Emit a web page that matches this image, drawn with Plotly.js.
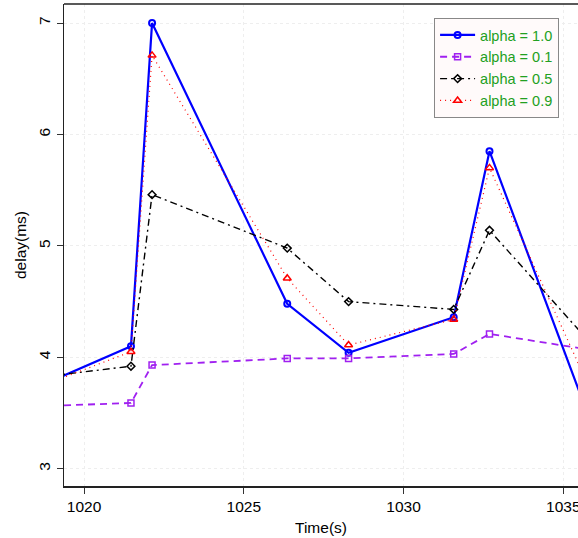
<!DOCTYPE html>
<html><head><meta charset="utf-8">
<script src="https://cdn.plot.ly/plotly-3.0.1.min.js"></script>
<style>html,body{margin:0;padding:0;background:#fff;}#chart{width:578px;height:538px;}</style>
</head><body><div id="chart"></div>
<script>
// Time (s) sample points
const time = [1019.0, 1021.47, 1022.13, 1026.36, 1028.28, 1031.57, 1032.69, 1036.0];
// delay (ms) per smoothing factor
const alpha10 = [3.79, 4.10, 7.00, 4.48, 4.04, 4.36, 5.85, 3.31];
const alpha01 = [3.565, 3.59, 3.93, 3.99, 3.99, 4.03, 4.21, 4.06];
const alpha05 = [3.835, 3.92, 5.46, 4.98, 4.50, 4.43, 5.14, 4.08];
const alpha09 = [3.78, 4.05, 6.71, 4.71, 4.11, 4.34, 5.70, 3.61];
const names = ["alpha = 1.0", "alpha = 0.1", "alpha = 0.5", "alpha = 0.9"];
const xTicks = [1020, 1025, 1030, 1035];
const yTicks = [3, 4, 5, 6, 7];

const traces = [
  {x: time, y: alpha10, name: names[0], mode: "lines+markers",
   line: {color: "#0000ff", width: 2.2},
   marker: {symbol: "circle-open", size: 6, color: "#0000ff", line: {width: 2}}},
  {x: time, y: alpha01, name: names[1], mode: "lines+markers",
   line: {color: "#a020f0", width: 1.8, dash: "7px,5px"},
   marker: {symbol: "square-open", size: 6, color: "#a020f0", line: {width: 1.5}}},
  {x: time, y: alpha05, name: names[2], mode: "lines+markers",
   line: {color: "#000000", width: 1.4, dash: "7px,4px,2px,4px"},
   marker: {symbol: "diamond-open", size: 6, color: "#000000", line: {width: 1.5}}},
  {x: time, y: alpha09, name: names[3], mode: "lines+markers",
   line: {color: "#ff0000", width: 1.2, dash: "1px,4px"},
   marker: {symbol: "triangle-up-open", size: 7, color: "#ff0000", line: {width: 1.5}}}
];

const font = {family: "Liberation Sans, Arial, sans-serif", size: 15.5, color: "#000"};
const layout = {
  width: 578, height: 538,
  margin: {l: 64, r: 0, t: 4, b: 52},
  paper_bgcolor: "#ffffff", plot_bgcolor: "#ffffff",
  font: font,
  showlegend: true,
  legend: {x: 0.72, y: 0.971, xanchor: "left", yanchor: "top",
           bgcolor: "#fffafa", bordercolor: "#888", borderwidth: 1,
           itemwidth: 35,
           font: {family: "Liberation Sans, Arial, sans-serif", size: 14.5, color: "#22a022"}},
  xaxis: {range: [1019.374, 1035.46], tickvals: xTicks, ticktext: xTicks.map(String),
          ticks: "outside", ticklen: 6, tickwidth: 1, tickcolor: "#333",
          ticklabeloverflow: "allow",
          showline: true, linecolor: "#222", linewidth: 1.5, mirror: false,
          showgrid: true, gridcolor: "#eeeeee", griddash: "dot", gridwidth: 1,
          zeroline: false, tickfont: font,
          title: {text: "Time(s)", font: font, standoff: 8}},
  yaxis: {range: [2.845, 7.171], tickvals: yTicks, ticktext: yTicks.map(String),
          ticks: "outside", ticklen: 6, tickwidth: 1, tickcolor: "#333", tickangle: -90,
          showline: true, linecolor: "#222", linewidth: 1.5,
          showgrid: true, gridcolor: "#eeeeee", griddash: "dot", gridwidth: 1,
          zeroline: false, tickfont: font,
          title: {text: "delay(ms)", font: font, standoff: 6}},
  shapes: [{type: "line", xref: "paper", yref: "paper", x0: 0, x1: 1, y0: 1, y1: 1,
            line: {color: "#222", width: 1.5}}]
};
Plotly.newPlot("chart", traces, layout, {displayModeBar: false, staticPlot: true});
</script></body></html>
